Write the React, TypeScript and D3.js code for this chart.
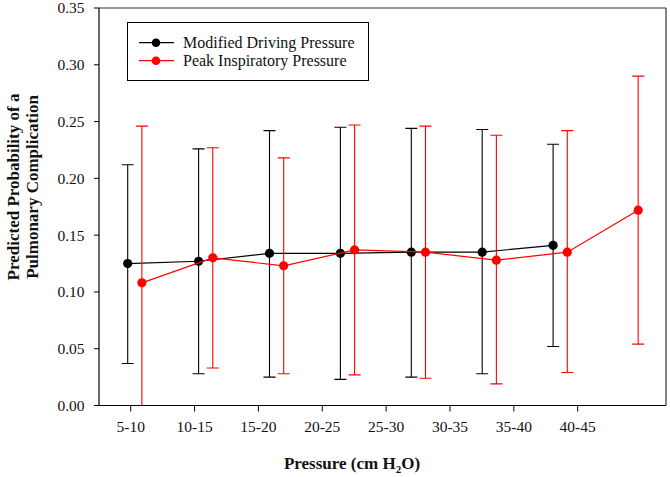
import React from "react";
import * as d3 from "d3";

const categories = ["5-10", "10-15", "15-20", "20-25", "25-30", "30-35", "35-40", "40-45"];
const yTicks = [0, 0.05, 0.1, 0.15, 0.2, 0.25, 0.3, 0.35];

// Modified Driving Pressure (7 categories)
const mdpMean = [0.125, 0.127, 0.134, 0.134, 0.135, 0.135, 0.141];
const mdpUpper = [0.212, 0.226, 0.242, 0.245, 0.244, 0.243, 0.230];
const mdpLower = [0.037, 0.028, 0.025, 0.023, 0.025, 0.028, 0.052];

// Peak Inspiratory Pressure (8 categories)
const pipMean = [0.108, 0.130, 0.123, 0.137, 0.135, 0.128, 0.135, 0.172];
const pipUpper = [0.246, 0.227, 0.218, 0.247, 0.246, 0.238, 0.242, 0.290];
const pipLower = [-0.02, 0.033, 0.028, 0.027, 0.024, 0.019, 0.029, 0.054];

const W = 670, H = 477;
const left = 99, right = 666, top = 8, bottom = 405.5;
const FONT = "Liberation Serif";

export default function App() {
  const y = d3.scaleLinear().domain([0, 0.35]).range([bottom, top]);
  const xTick = d3.scalePoint<string>().domain(categories).range([130.7, 577.7]);
  const xPt = d3.scaleLinear().domain([0, 7]).range([127.7, 127.7 + 7 * 70.9]);
  const redOffset = 0.2;
  const cap = 6;

  const series = [
    { name: "Modified Driving Pressure", color: "#000000", mean: mdpMean, up: mdpUpper, lo: mdpLower, off: 0 },
    { name: "Peak Inspiratory Pressure", color: "#ff0000", mean: pipMean, up: pipUpper, lo: pipLower, off: redOffset },
  ];

  const line = d3.line<[number, number]>().x((d) => d[0]).y((d) => d[1]);
  const ts = { fontFamily: FONT };

  return (
    <svg width={W} height={H} style={{ position: "absolute", left: 0, top: 0, background: "#fff" }}>
      <defs>
        <clipPath id="plotclip">
          <rect x={left} y={top} width={right - left} height={bottom - top} />
        </clipPath>
      </defs>
      {/* frame */}
      <line x1={left} y1={top} x2={right} y2={top} stroke="#333" strokeWidth={1.2} />
      <line x1={right} y1={top} x2={right} y2={bottom} stroke="#333" strokeWidth={1.2} />
      <line x1={left} y1={top} x2={left} y2={bottom} stroke="#000" strokeWidth={1.2} />
      <line x1={left} y1={bottom} x2={right} y2={bottom} stroke="#000" strokeWidth={1.2} />

      {/* y ticks */}
      {yTicks.map((t) => (
        <g key={t}>
          <line x1={left - 5} x2={left} y1={y(t)} y2={y(t)} stroke="#000" />
          <text x={84.5} y={y(t)} dy="0.35em" textAnchor="end" fontSize={15.5} fill="#111" style={ts}>
            {t.toFixed(2)}
          </text>
        </g>
      ))}
      {/* x ticks */}
      {categories.map((c) => (
        <g key={c}>
          <line x1={xTick(c)} x2={xTick(c)} y1={bottom} y2={bottom + 6} stroke="#000" />
          <text x={xTick(c)} y={432} textAnchor="middle" fontSize={15.5} fill="#111" style={ts}>{c}</text>
        </g>
      ))}

      {/* axis titles */}
      <text x={352} y={469} textAnchor="middle" fontSize={17} fontWeight="bold" fill="#111" style={ts}>
        Pressure (cm H<tspan fontSize={11} dy={4}>2</tspan><tspan dy={-4}>O)</tspan>
      </text>
      <g transform="translate(19,187) rotate(-90)">
        <text x={0} y={0} textAnchor="middle" fontSize={17} fontWeight="bold" fill="#111" style={ts}>Predicted Probability of a</text>
        <text x={0} y={19} textAnchor="middle" fontSize={17} fontWeight="bold" fill="#111" style={ts}>Pulmonary Complication</text>
      </g>

      <g clipPath="url(#plotclip)">
        {series.map((s) => {
          const pts: [number, number][] = s.mean.map((m, i) => [xPt(i + s.off), y(m)]);
          return (
            <g key={s.name}>
              {s.mean.map((m, i) => {
                const cx = xPt(i + s.off);
                return (
                  <g key={i} stroke={s.color} strokeWidth={1.1}>
                    <line x1={cx} x2={cx} y1={y(s.up[i])} y2={y(s.lo[i])} />
                    <line x1={cx - cap} x2={cx + cap} y1={y(s.up[i])} y2={y(s.up[i])} />
                    <line x1={cx - cap} x2={cx + cap} y1={y(s.lo[i])} y2={y(s.lo[i])} />
                  </g>
                );
              })}
              <path d={line(pts) || ""} fill="none" stroke={s.color} strokeWidth={1.2} />
              {pts.map((p, i) => (
                <circle key={i} cx={p[0]} cy={p[1]} r={4.6} fill={s.color} />
              ))}
            </g>
          );
        })}
      </g>

      {/* legend */}
      <rect x={127.5} y={22.5} width={241} height={58} fill="#fff" stroke="#000" strokeWidth={1} />
      {series.map((s, i) => (
        <g key={s.name} transform={`translate(0,${42.7 + i * 18})`}>
          <line x1={139} x2={174} y1={0} y2={0} stroke={s.color} strokeWidth={1.2} />
          <circle cx={156} cy={0} r={4.3} fill={s.color} />
          <text x={183} y={0} dy="0.35em" fontSize={16} fill="#111" style={ts}>{s.name}</text>
        </g>
      ))}
    </svg>
  );
}
